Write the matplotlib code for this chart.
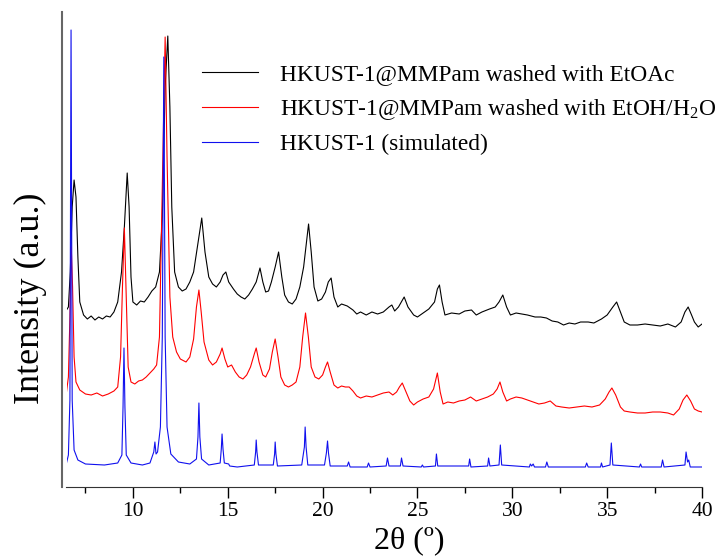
import matplotlib
matplotlib.use("Agg")
import matplotlib.pyplot as plt

# XRD patterns, heights in arbitrary units (traces already stacked)
sim_x = [6.5, 6.6, 6.68, 6.74, 6.8, 6.9, 7.1, 7.5, 8.5, 9.2, 9.42, 9.48, 9.53, 9.58, 9.65, 9.9,
         10.5, 10.9, 11.1, 11.16, 11.22, 11.3, 11.45, 11.55, 11.63, 11.7, 11.8, 12.0, 12.4,
         13.0, 13.35, 13.43, 13.48, 13.53, 13.62, 14.0, 14.6, 14.66, 14.7, 14.75, 14.82,
         15.05, 15.1, 15.5, 16.4, 16.47, 16.5, 16.54, 16.62, 17.4, 17.47, 17.5, 17.54, 17.62,
         18.9, 19.04, 19.08, 19.13, 19.22, 20.1, 20.2, 20.26, 20.31, 20.4, 21.3, 21.37, 21.45,
         22.35, 22.42, 22.5, 23.35, 23.42, 23.5, 24.1, 24.16, 24.24, 25.2, 25.26, 25.32,
         25.95, 26.0, 26.07, 27.7, 27.75, 27.82, 28.7, 28.75, 28.82, 29.3, 29.37, 29.44,
         30.9, 30.95, 31.02, 31.1, 31.17, 31.75, 31.82, 31.9, 33.85, 33.92, 34.0, 34.65,
         34.7, 34.76, 35.15, 35.22, 35.3, 36.7, 36.76, 36.82, 37.85, 37.92, 38.0, 39.1,
         39.16, 39.24, 39.3, 39.38, 40.0]
sim_y = [24, 32, 87, 457, 87, 37, 27, 23, 22, 24, 32, 80, 139, 80, 32, 24,
         22, 24, 35, 45, 33, 35, 60, 150, 430, 150, 60, 33, 25,
         23, 28, 50, 84, 50, 28, 22, 24, 38, 53, 38, 24,
         23, 21, 20, 22, 35, 47, 35, 22, 22, 33, 45, 33, 21,
         22, 40, 60, 40, 22, 22, 34, 46, 34, 21, 21, 25, 20,
         20, 24, 20, 21, 29, 21, 21, 29, 21, 20, 22, 20,
         21, 33, 21, 21, 28, 20, 21, 29, 21, 22, 42, 22,
         20, 23, 21, 23, 20, 20, 25, 20, 20, 24, 20, 20,
         24, 20, 22, 44, 22, 20, 23, 20, 20, 27, 20, 22,
         35, 25, 27, 20, 20]

etoac_x = [6.5, 6.6, 6.7, 6.8, 6.9, 7.0, 7.1, 7.2, 7.4, 7.6, 7.8, 8.0, 8.2, 8.4, 8.6, 8.8,
           9.0, 9.2, 9.4, 9.55, 9.7, 9.8, 9.9, 10.0, 10.2, 10.4, 10.6, 10.8, 11.0, 11.2,
           11.4, 11.55, 11.7, 11.84, 11.95, 12.05, 12.2, 12.4, 12.6, 12.8, 13.0, 13.2,
           13.4, 13.63, 13.8, 14.0, 14.2, 14.4, 14.6, 14.75, 14.9, 15.05, 15.3, 15.5,
           15.7, 15.9, 16.1, 16.3, 16.5, 16.7, 16.85, 17.0, 17.15, 17.3, 17.5, 17.68,
           17.85, 18.0, 18.2, 18.4, 18.6, 18.8, 19.0, 19.15, 19.26, 19.4, 19.55, 19.75,
           19.95, 20.15, 20.3, 20.45, 20.6, 20.8, 21.0, 21.3, 21.6, 21.8, 22.0, 22.3,
           22.6, 22.9, 23.2, 23.5, 23.65, 23.8, 24.0, 24.3, 24.5, 24.8, 25.0, 25.3,
           25.6, 25.9, 26.05, 26.16, 26.3, 26.45, 26.8, 27.2, 27.5, 27.85, 28.1, 28.4,
           28.8, 29.1, 29.3, 29.5, 29.7, 29.9, 30.2, 30.5, 30.8, 31.2, 31.5, 31.8, 32.1,
           32.4, 32.7, 33.0, 33.3, 33.6, 34.0, 34.3, 34.7, 35.0, 35.3, 35.5, 35.7, 35.9,
           36.2, 36.6, 37.0, 37.4, 37.8, 38.2, 38.6, 38.9, 39.1, 39.27, 39.45, 39.6,
           39.8, 40.0]
etoac_y = [177, 180, 215, 280, 307, 290, 230, 185, 172, 168, 171, 167, 170, 168, 171, 170,
           175, 185, 215, 260, 314, 280, 210, 185, 182, 186, 185, 190, 196, 200,
           215, 270, 400, 451, 380, 280, 215, 200, 196, 198, 205, 215,
           240, 269, 235, 210, 203, 200, 205, 212, 215, 205, 198, 193,
           190, 188, 192, 198, 205, 219, 205, 195, 196, 205, 220, 235,
           210, 192, 185, 183, 188, 200, 220, 245, 263, 235, 200, 186,
           188, 195, 205, 209, 190, 180, 183, 181, 177, 173, 175, 172,
           175, 173, 175, 180, 182, 176, 180, 190, 180, 172, 170, 174,
           178, 185, 198, 202, 185, 172, 174, 173, 176, 177, 172, 175,
           178, 180, 185, 192, 180, 172, 174, 173, 172, 170, 170, 169, 166,
           165, 162, 164, 163, 165, 165, 164, 168, 172, 180, 185, 175, 165,
           162, 162, 163, 162, 161, 163, 160, 165, 175, 180, 172, 165,
           160, 163]

etoh_x = [6.5, 6.6, 6.68, 6.75, 6.82, 6.9, 7.0, 7.2, 7.5, 7.8, 8.1, 8.4, 8.7, 9.0, 9.2,
          9.35, 9.45, 9.55, 9.65, 9.75, 9.9, 10.1, 10.3, 10.5, 10.7, 10.9, 11.1, 11.25,
          11.4, 11.55, 11.7, 11.8, 11.95, 12.1, 12.3, 12.5, 12.8, 13.0, 13.2, 13.35,
          13.48, 13.6, 13.75, 14.0, 14.2, 14.4, 14.6, 14.7, 14.85, 15.0, 15.2, 15.4,
          15.6, 15.8, 16.0, 16.2, 16.4, 16.5, 16.65, 16.85, 17.0, 17.2, 17.35, 17.5,
          17.65, 17.8, 18.0, 18.2, 18.4, 18.6, 18.8, 18.95, 19.1, 19.25, 19.4, 19.6,
          19.8, 20.0, 20.15, 20.26, 20.4, 20.6, 20.8, 21.0, 21.2, 21.4, 21.6, 21.8,
          22.0, 22.3, 22.6, 22.9, 23.2, 23.5, 23.7, 23.9, 24.05, 24.2, 24.4, 24.6,
          24.8, 25.0, 25.3, 25.6, 25.85, 26.0, 26.05, 26.2, 26.35, 26.6, 26.9, 27.2,
          27.5, 27.8, 28.1, 28.4, 28.7, 29.0, 29.2, 29.35, 29.5, 29.7, 29.9, 30.2,
          30.5, 30.8, 31.1, 31.4, 31.7, 32.0, 32.3, 32.6, 33.0, 33.4, 33.8, 34.2,
          34.6, 34.9, 35.1, 35.25, 35.45, 35.7, 35.9, 36.2, 36.6, 37.0, 37.4, 37.8,
          38.2, 38.5, 38.8, 39.0, 39.2, 39.4, 39.6, 39.8, 40.0]
etoh_y = [95, 110, 170, 240, 200, 130, 105, 97, 93, 92, 94, 91, 93, 96, 100,
          130, 200, 259, 190, 120, 105, 103, 106, 107, 110, 114, 118, 122,
          150, 300, 450, 330, 190, 150, 135, 128, 125, 130, 148, 180,
          197, 175, 145, 127, 122, 125, 133, 139, 128, 120, 122, 115,
          110, 108, 112, 120, 133, 139, 125, 112, 110, 118, 135, 148,
          130, 110, 102, 100, 102, 105, 120, 150, 174, 150, 120, 110,
          108, 112, 120, 125, 115, 102, 99, 101, 100, 100, 96, 91,
          89, 91, 90, 92, 94, 95, 92, 95, 100, 104, 95, 86,
          82, 85, 88, 90, 98, 110, 114, 95, 83, 85, 84, 86,
          87, 90, 86, 88, 90, 93, 98, 105, 95, 86, 88, 90,
          89, 87, 85, 83, 84, 86, 81, 80, 79, 80, 81, 80,
          82, 88, 95, 99, 92, 80, 76, 75, 74, 74, 75, 75,
          74, 72, 78, 87, 92, 86, 78, 76, 75]

labels = ["HKUST-1@MMPam washed with EtOAc",
          "HKUST-1@MMPam washed with EtOH/H$_2$O",
          "HKUST-1 (simulated)"]

plt.rcParams['font.family'] = ['Liberation Serif', 'DejaVu Serif']
plt.rcParams['mathtext.default'] = 'regular'

fig = plt.figure(figsize=(7.15, 5.6), dpi=100)
ax = fig.add_axes([66.5 / 715, 73 / 560, 635.5 / 715, 475 / 560])

ax.plot(etoac_x, etoac_y, color='black', lw=0.8, label=labels[0])
ax.plot(etoh_x, etoh_y, color='#ff0000', lw=0.8, label=labels[1])
ax.plot(sim_x, sim_y, color='#1010ee', lw=0.8, label=labels[2])

ax.set_xlim(6.5, 40)
ax.set_ylim(0, 475)
ax.set_xticks([10, 15, 20, 25, 30, 35, 40])
ax.set_xticks([7.5, 12.5, 17.5, 22.5, 27.5, 32.5, 37.5], minor=True)
ax.set_yticks([])
ax.tick_params(axis='x', which='major', length=8, width=1, labelsize=15.5, pad=3)
ax.tick_params(axis='x', which='minor', length=4, width=1)

ax.spines['top'].set_visible(False)
ax.spines['right'].set_visible(False)
ax.spines['left'].set_position(('outward', 3.2))
ax.spines['left'].set_color('#666666')
ax.spines['left'].set_linewidth(1.5)
ax.spines['bottom'].set_color('#333333')

ax.set_xlabel('2θ (º)', fontsize=23)
ax.xaxis.set_label_coords(0.54, -0.082)
ax.set_ylabel('Intensity (a.u.)', fontsize=26)
ax.yaxis.set_label_coords(-0.031, 0.398)

ax.legend(loc='upper left', bbox_to_anchor=(0.213, 0.891), frameon=False, fontsize=16.8,
          handlelength=2.4, handletextpad=0.94, labelspacing=0.5, borderpad=0,
          borderaxespad=0)

fig.savefig('out.png', dpi=100)
